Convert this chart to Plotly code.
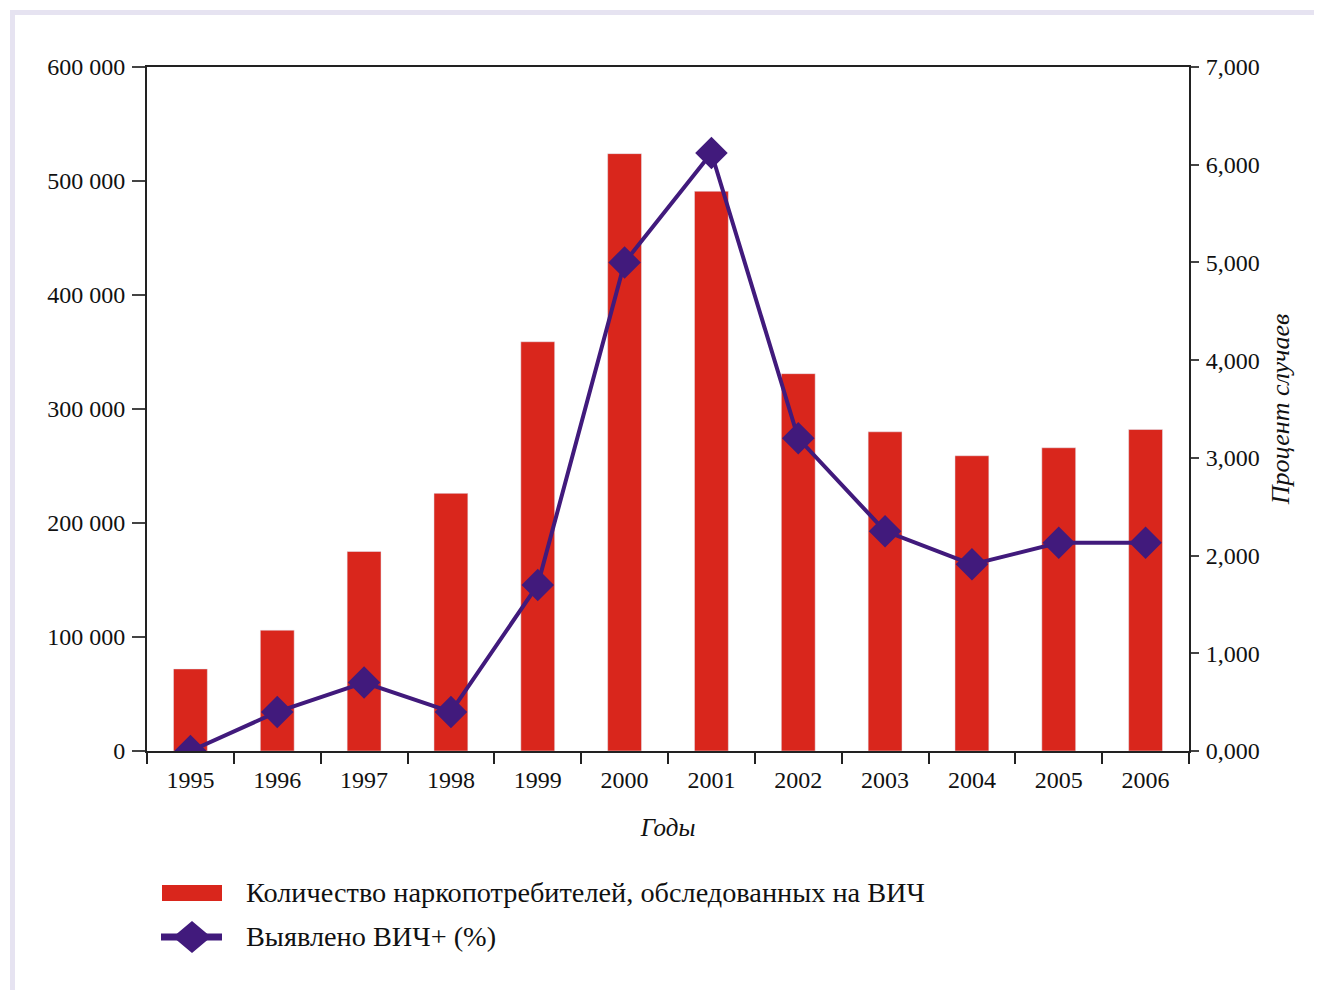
import plotly.graph_objects as go

years = ["1995", "1996", "1997", "1998", "1999", "2000", "2001", "2002", "2003", "2004", "2005", "2006"]
tested = [72000, 106000, 175000, 226000, 359000, 524000, 491000, 331000, 280000, 259000, 266000, 282000]
hiv_pct = [0.0, 0.40, 0.70, 0.40, 1.70, 5.00, 6.12, 3.20, 2.25, 1.91, 2.13, 2.13]

bar_name = "Количество наркопотребителей, обследованных на ВИЧ"
line_name = "Выявлено ВИЧ+ (%)"
x_title = "Годы"
y2_title = "Процент случаев"

RED = "#D9261C"
PURPLE = "#411A7C"
FONT = "Liberation Serif"
OFF = 8  # page body margin
W, H = 1322 - OFF, 990 - OFF
# plot area in page pixels
PL, PR, PT, PB = 147, 1189, 67, 751
L, R, T, B = PL - OFF, PR - OFF, PT - OFF, PB - OFF


def px(xp):
    return (xp - PL) / (PR - PL)


def py(yp):
    return (PB - yp) / (PB - PT)


fig = go.Figure()
fig.add_trace(go.Bar(x=years, y=tested, name=bar_name, marker_color=RED,
                     width=0.39, showlegend=False, yaxis="y"))
fig.add_trace(go.Scatter(x=years, y=hiv_pct, name=line_name, mode="lines+markers",
                         line=dict(color=PURPLE, width=4),
                         marker=dict(symbol="diamond", size=25, color=PURPLE),
                         showlegend=False, yaxis="y2"))

shapes = []
# frame
shapes.append(dict(type="rect", xref="paper", yref="paper", x0=px(10), x1=px(1330), y0=py(10), y1=py(15),
                   fillcolor="#E6E3F1", line=dict(width=0), layer="below"))
shapes.append(dict(type="rect", xref="paper", yref="paper", x0=px(10), x1=px(15), y0=py(10), y1=py(995),
                   fillcolor="#E6E3F1", line=dict(width=0), layer="below"))
# legend symbols
shapes.append(dict(type="rect", xref="paper", yref="paper", x0=px(162), x1=px(222), y0=py(885), y1=py(901),
                   fillcolor=RED, line=dict(width=0)))
shapes.append(dict(type="line", xref="paper", yref="paper", x0=px(161), x1=px(222), y0=py(937), y1=py(937),
                   line=dict(color=PURPLE, width=7)))
cx, cy = 192, 937
shapes.append(dict(type="path", xref="paper", yref="paper",
                   path=f"M {px(cx-19)},{py(cy)} L {px(cx)},{py(cy-16)} L {px(cx+19)},{py(cy)} L {px(cx)},{py(cy+16)} Z",
                   fillcolor=PURPLE, line=dict(width=0)))

annotations = [
    dict(text=bar_name, xref="paper", yref="paper", x=px(244), y=py(892), xanchor="left", yanchor="middle",
         showarrow=False, font=dict(family=FONT, size=28.3, color="#111")),
    dict(text=line_name, xref="paper", yref="paper", x=px(244), y=py(936), xanchor="left", yanchor="middle",
         showarrow=False, font=dict(family=FONT, size=28.3, color="#111")),
]

fig.update_layout(
    width=W, height=H,
    margin=dict(l=L, r=W - R, t=T, b=H - B, pad=0),
    paper_bgcolor="white", plot_bgcolor="white",
    separators=", ",
    font=dict(family=FONT, size=24, color="#111"),
    shapes=shapes, annotations=annotations,
    xaxis=dict(type="category", range=[-0.5, 11.5], showline=True, linecolor="#222", linewidth=2, mirror=True,
               ticks="outside", tickson="boundaries", ticklen=11, tickwidth=2, tickcolor="#222",
               ticklabelstandoff=6,
               showgrid=False, zeroline=False,
               title=dict(text=f"<i>{x_title}</i>", font=dict(family=FONT, size=25), standoff=27),
               tickfont=dict(family=FONT, size=24)),
    yaxis=dict(range=[0, 600000], dtick=100000, tickformat=",d", showline=True, linecolor="#222",
               linewidth=2, ticks="outside", ticklen=13, tickwidth=2, tickcolor="#444",
               ticklabelstandoff=2,
               showgrid=False, zeroline=False, tickfont=dict(family=FONT, size=24)),
    yaxis2=dict(range=[0, 7], dtick=1, tickformat=".3f", overlaying="y", side="right",
                showline=True, linecolor="#222", linewidth=2, ticks="outside", ticklen=8,
                tickwidth=2, tickcolor="#444", showgrid=False, zeroline=False,
                ticklabelstandoff=2,
                tickfont=dict(family=FONT, size=24),
                title=dict(text=f"<i>{y2_title}</i>", font=dict(family=FONT, size=26), standoff=12)),
)

fig.write_html("out.html")
